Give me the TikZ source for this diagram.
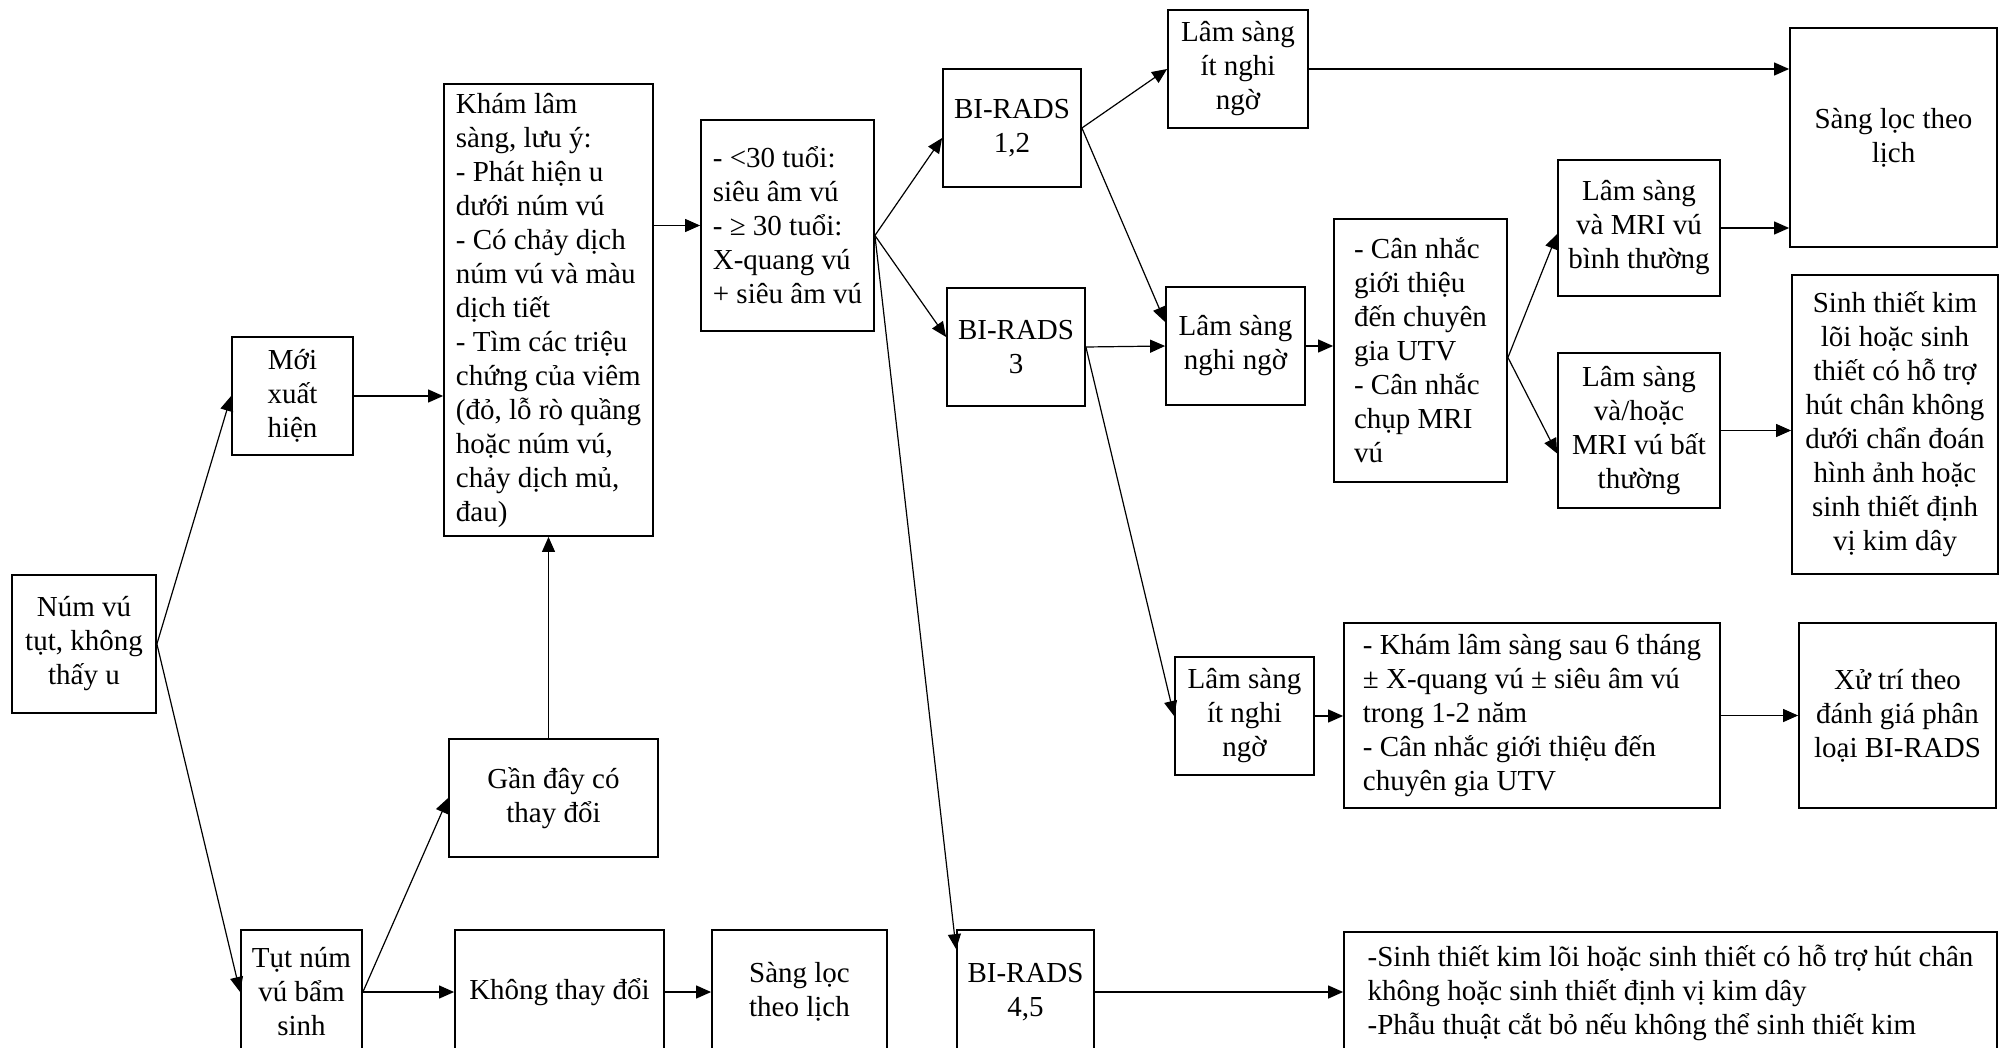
\documentclass[tikz,border=0pt]{standalone}
\usepackage{fontspec}
\setmainfont{Liberation Serif}
\usetikzlibrary{arrows.meta,positioning,calc}

\begin{document}
\begin{tikzpicture}[x=0.5pt,y=-0.5pt,
    box/.style={draw, line width=0.9pt, inner xsep=2pt, inner ysep=2pt, align=center,
        font=\fontsize{14.5}{17}\selectfont},
    lbox/.style={box, align=left},
    wh/.style 2 args={minimum width=#1*0.5pt, minimum height=#2*0.5pt},
    arr/.style={line width=0.6pt, -{Triangle[length=7.5pt,width=6.5pt]}}]

    % the page
    \useasboundingbox (0,0) rectangle (2006,1048);
    \clip (0,0) rectangle (2006,1048);

    % left part
    \node[box, wh={144}{138}] (numvu) at (84,644) {Núm vú\\tụt, không\\thấy u};
    \node[box, wh={121}{118}] (moi) at (292.5,396) {Mới\\xuất\\hiện};
    \node[box, wh={121}{124}] (tut) at (301.5,992) {Tụt núm\\vú bẩm\\sinh};
    \node[lbox, wh={209}{452}] (kham) at (548.5,310)
        {Khám lâm\\sàng, lưu ý:\\- Phát hiện u\\dưới núm vú\\- Có chảy dịch\\núm vú và màu\\dịch tiết\\- Tìm các triệu\\chứng của viêm\\(đỏ, lỗ rò quầng\\hoặc núm vú,\\chảy dịch mủ,\\đau)};
    \node[box, wh={209}{118}] (ganday) at (553.5,798) {Gần đây có\\thay đổi};
    \node[box, wh={209}{124}] (khong) at (559.5,992) {Không thay đổi};
    \node[box, wh={175}{124}] (sangloc1) at (799.5,992) {Sàng lọc\\theo lịch};
    \node[lbox, wh={173}{211}] (tuoi) at (787.5,225.5)
        {- <30 tuổi:\\siêu âm vú\\- ≥ 30 tuổi:\\X-quang vú\\+ siêu âm vú};

    % BI-RADS
    \node[box, wh={138}{118}] (br12) at (1012,128) {BI-RADS\\1,2};
    \node[box, wh={138}{118}] (br3) at (1016,347) {BI-RADS\\3};
    \node[box, wh={137}{124}] (br45) at (1025.5,992) {BI-RADS\\4,5};

    % right part
    \node[box, wh={140}{118}] (itnn1) at (1238,69) {Lâm sàng\\ít nghi\\ngờ};
    \node[box, wh={139}{118}] (nghingo) at (1235.5,346) {Lâm sàng\\nghi ngờ};
    \node[lbox, wh={173}{263}] (cannhac) at (1420.5,350.5)
        {- Cân nhắc\\giới thiệu\\đến chuyên\\gia UTV\\- Cân nhắc\\chụp MRI\\vú};
    \node[box, wh={162}{136}] (mribt) at (1639,228) {Lâm sàng\\và MRI vú\\bình thường};
    \node[box, wh={162}{155}] (mribat) at (1639,430.5) {Lâm sàng\\và/hoặc\\MRI vú bất\\thường};
    \node[box, wh={207}{219}] (sangloc2) at (1893.5,137.5) {Sàng lọc theo\\lịch};
    \node[box, wh={206}{299}] (sinhthiet) at (1895,424.5)
        {Sinh thiết kim\\lõi hoặc sinh\\thiết có hỗ trợ\\hút chân không\\dưới chẩn đoán\\hình ảnh hoặc\\sinh thiết định\\vị kim dây};
    \node[box, wh={139}{118}] (itnn2) at (1244.5,716) {Lâm sàng\\ít nghi\\ngờ};
    \node[lbox, wh={376}{185}] (khamsau) at (1532,715.5)
        {- Khám lâm sàng sau 6 tháng\\± X-quang vú ± siêu âm vú\\trong 1-2 năm\\- Cân nhắc giới thiệu đến\\chuyên gia UTV};
    \node[box, wh={197}{185}] (xutri) at (1897.5,715.5) {Xử trí theo\\đánh giá phân\\loại BI-RADS};
    \node[lbox, wh={653}{122}] (sinhthiet2) at (1670.5,993)
        {-Sinh thiết kim lõi hoặc sinh thiết có hỗ trợ hút chân\\không hoặc sinh thiết định vị kim dây\\-Phẫu thuật cắt bỏ nếu không thể sinh thiết kim};

    % where the fans leave the boxes
    \coordinate (tuoiout) at ($(tuoi.east)+(0,10)$);
    \coordinate (cannhacout) at ($(cannhac.east)+(0,7)$);

    % arrows on the left
    \draw[arr] (numvu.east) -- (moi.west);
    \draw[arr] (numvu.east) -- (tut.west);
    \draw[arr] (moi.east) -- (moi.east -| kham.west);
    \draw[arr] (tut.east) -- (ganday.west);
    \draw[arr] (tut.east) -- (khong.west);
    \draw[arr] (khong.east) -- (sangloc1.west);
    \draw[arr] (kham.south |- ganday.north) -- (kham.south);
    \draw[arr] (tuoi.west -| kham.east) -- (tuoi.west);

    % arrows to BI-RADS
    \draw[arr] (tuoiout) -- ($(br12.west)+(0,10)$);
    \draw[arr] (tuoiout) -- ($(br3.west)+(0,-10)$);
    \draw[arr] (tuoiout) -- ($(br45.north west)+(0,20)$);

    % arrows on the right
    \draw[arr] (br12.east) -- (itnn1.west);
    \draw[arr] (br12.east) -- ($(nghingo.west)+(0,-24)$);
    \draw[arr] (br3.east) -- (nghingo.west);
    \draw[arr] (br3.east) -- (itnn2.west);
    \draw[arr] (br45.east) -- (br45.east -| sinhthiet2.west);
    \draw[arr] (itnn1.east) -- (itnn1.east -| sangloc2.west);
    \draw[arr] (nghingo.east) -- (nghingo.east -| cannhac.west);
    \draw[arr] (cannhacout) -- ($(mribt.west)+(0,6)$);
    \draw[arr] (cannhacout) -- ($(mribat.west)+(0,23)$);
    \draw[arr] (mribt.east) -- (mribt.east -| sangloc2.west);
    \draw[arr] (mribat.east) -- (mribat.east -| sinhthiet.west);
    \draw[arr] (itnn2.east) -- (itnn2.east -| khamsau.west);
    \draw[arr] (khamsau.east) -- (khamsau.east -| xutri.west);
\end{tikzpicture}
\end{document}
